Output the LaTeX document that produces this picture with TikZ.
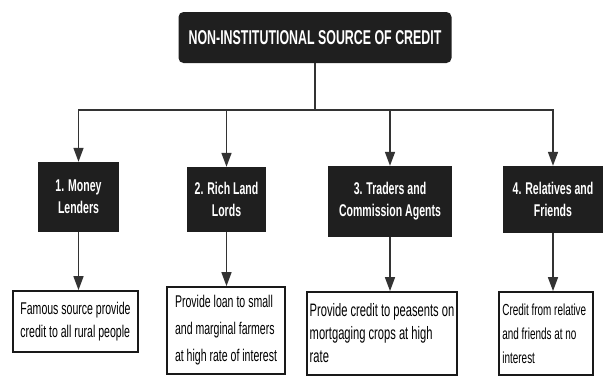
\documentclass[tikz,border=0pt]{standalone}
\usepackage{fontspec}
\setmainfont[FakeStretch=0.62]{Liberation Sans}
\usetikzlibrary{arrows.meta}
\tikzset{
% three kinds of boxes: title, heading and note
title box/.style={rectangle,rounded corners=5,fill=black!88,text=white,font=\bfseries\fontsize{20}{22}\selectfont,inner sep=0},
head box/.style={rectangle,fill=black!88,text=white,align=center,font=\bfseries\fontsize{17}{22}\selectfont,inner sep=0},
note box/.style={rectangle,draw=black!90,line width=1.8,align=left,font=\fontsize{17}{23}\selectfont,inner sep=0},
link/.style={draw=black!80,line width=1.6,-{Triangle[length=14,width=10]}}
}
\begin{document}
\begin{tikzpicture}[x=1pt,y=-1pt]
\useasboundingbox (0,0) rectangle (604,376);
% The title and the bus line under it
\node(0)[title box,minimum width=273,minimum height=51] at (315,37.5) {NON-INSTITUTIONAL SOURCE OF CREDIT};
\coordinate(bus) at (315,110);
% The four sources
\node(1)[head box,minimum width=81,minimum height=70] at (78.5,197) {1. Money\\Lenders};
\node(2)[head box,minimum width=79,minimum height=65] at (226.5,199.5) {2. Rich Land\\Lords};
\node(3)[head box,minimum width=124,minimum height=71] at (390,201.5) {3. Traders and\\Commission Agents};
\node(4)[head box,minimum width=100,minimum height=67] at (553,199.5) {4. Relatives and\\Friends};
% What each one does
\node(1a)[note box,minimum width=125,minimum height=61] at (75.5,321.5) {Famous source provide\\credit to all rural people};
\node(2a)[note box,minimum width=118,minimum height=87,font=\fontsize{17}{27}\selectfont] at (226,330.5) {Provide loan to small\\and marginal farmers\\at high rate of interest};
\node(3a)[note box,minimum width=150,minimum height=83,font=\fontsize{18}{23}\selectfont] at (382,333.5) {Provide credit to peasents on\\mortgaging crops at high\\rate\hphantom{mortgaging crops at high}};
\node(4a)[note box,minimum width=94,minimum height=83,font=\fontsize{16}{24}\selectfont] at (546,333.5) {Credit from relative\\and friends at no\\interest\hphantom{friends at no}};
% Connectors
\draw[draw=black!80,line width=1.6] (0.south)--(bus);
\foreach \k in {1,2,3,4}{
\draw[link] (bus) -| (\k.north);
\draw[link] (\k.south) -- (\k a.north -| \k.south);
}
\end{tikzpicture}
\end{document}
